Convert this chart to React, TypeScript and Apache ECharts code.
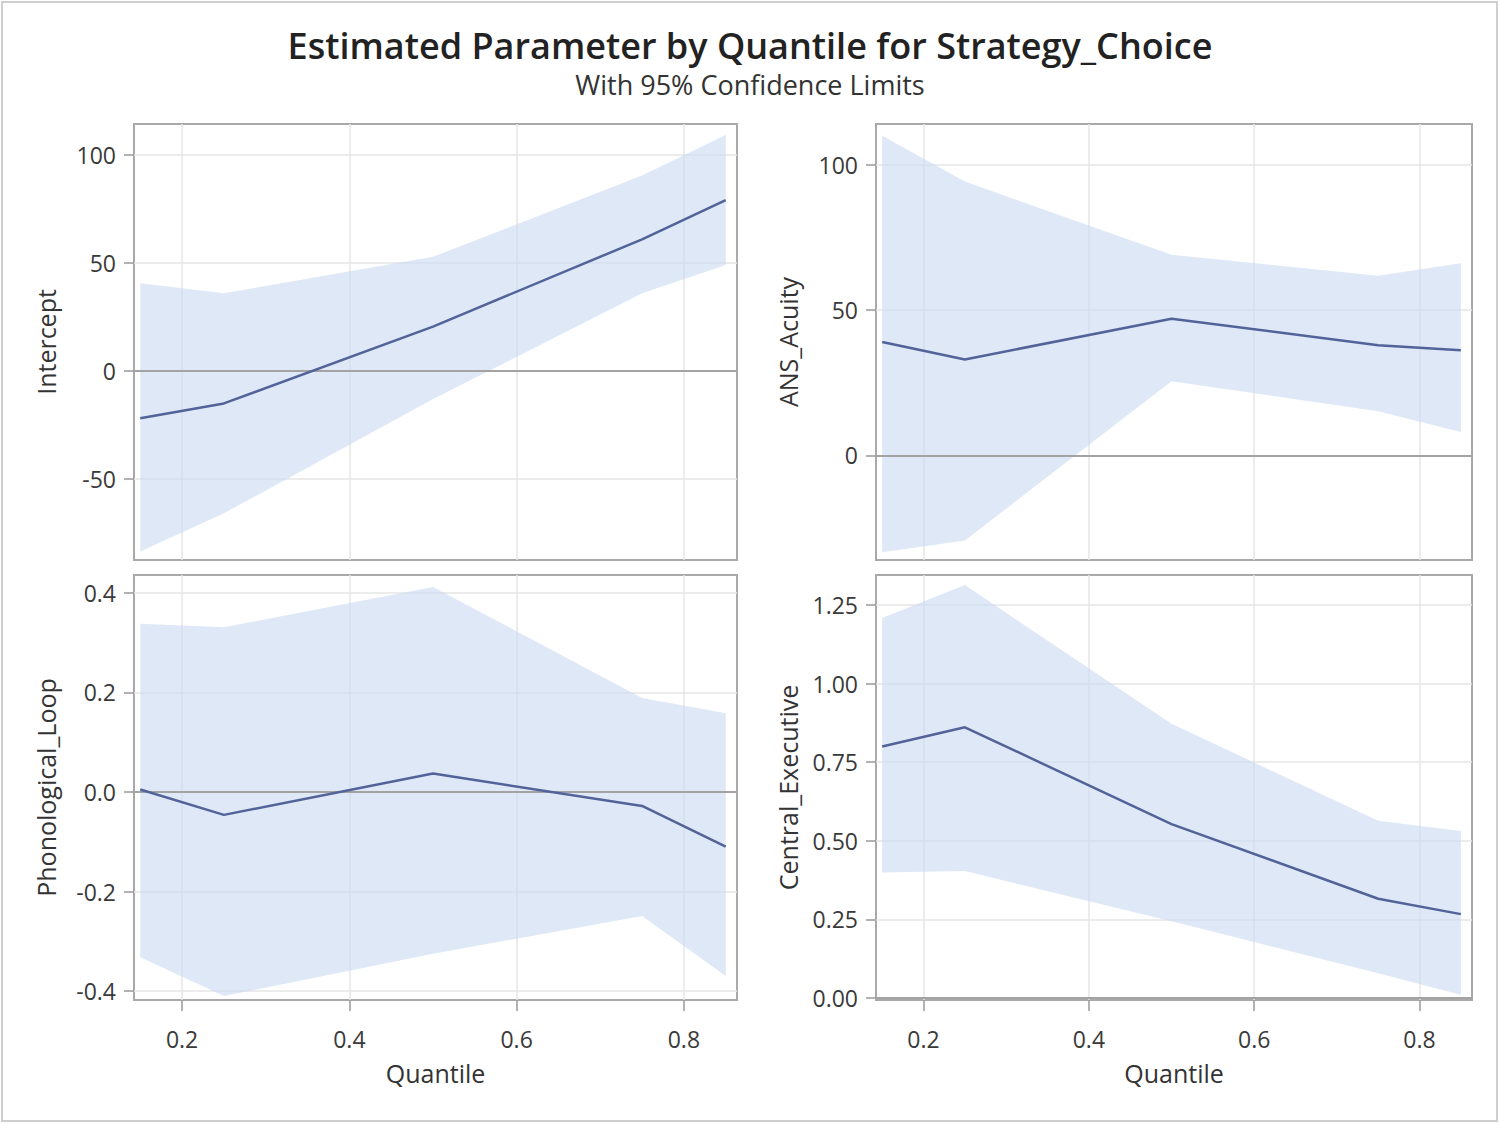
import React, { useEffect, useRef } from "react";
import * as echarts from "echarts";

const quantiles = [0.15, 0.25, 0.5, 0.75, 0.85];

const interceptEst = [-21.9, -15.0, 20.6, 61.0, 79.2];
const interceptLower = [-83.6, -65.9, -13.0, 36.0, 49.1];
const interceptUpper = [40.6, 36.0, 52.9, 90.5, 109.3];

const ansEst = [39.0, 33.0, 47.0, 37.9, 36.2];
const ansLower = [-33.3, -29.3, 25.5, 15.2, 8.0];
const ansUpper = [110.0, 94.2, 69.0, 61.8, 66.1];

const phonEst = [0.005, -0.046, 0.037, -0.028, -0.11];
const phonLower = [-0.332, -0.41, -0.325, -0.249, -0.37];
const phonUpper = [0.338, 0.331, 0.412, 0.189, 0.158];

const ceEst = [0.8, 0.861, 0.553, 0.316, 0.267];
const ceLower = [0.399, 0.404, 0.244, 0.079, 0.011];
const ceUpper = [1.208, 1.313, 0.872, 0.564, 0.531];

const xTicks = [0.2, 0.4, 0.6, 0.8];
const interceptTicks = [-50, 0, 50, 100];
const ansTicks = [0, 50, 100];
const phonTicks = [-0.4, -0.2, 0, 0.2, 0.4];
const ceTicks = [0, 0.25, 0.5, 0.75, 1, 1.25];

const titleText = "Estimated Parameter by Quantile for Strategy_Choice";
const subtitleText = "With 95% Confidence Limits";
const xName = "Quantile";

const FONT = "'Open Sans', 'Noto Sans', sans-serif";
const LINE_COLOR = "#52639a";
const BAND_COLOR = "rgba(201,218,240,0.62)";

const panels = [
  {
    name: "Intercept",
    est: interceptEst, lower: interceptLower, upper: interceptUpper,
    ticks: interceptTicks, min: -87.5, max: 114.4, digits: 0,
    grid: { left: 134, top: 124, width: 603, height: 436 }, bottom: false,
  },
  {
    name: "ANS_Acuity",
    est: ansEst, lower: ansLower, upper: ansUpper,
    ticks: ansTicks, min: -36, max: 114, digits: 0,
    grid: { left: 876, top: 124, width: 596, height: 436 }, bottom: false,
  },
  {
    name: "Phonological_Loop",
    est: phonEst, lower: phonLower, upper: phonUpper,
    ticks: phonTicks, min: -0.418, max: 0.436, digits: 1,
    grid: { left: 134, top: 575, width: 603, height: 425 }, bottom: true,
  },
  {
    name: "Central_Executive",
    est: ceEst, lower: ceLower, upper: ceUpper,
    ticks: ceTicks, min: -0.006, max: 1.345, digits: 2,
    grid: { left: 876, top: 575, width: 596, height: 425 }, bottom: true,
  },
];

export default function App() {
  const ref = useRef<HTMLDivElement>(null);

  useEffect(() => {
    document.body.style.margin = "0";
    if (!ref.current) return;
    const chart = echarts.init(ref.current, undefined, { renderer: "svg" });

    const grids: any[] = [];
    const xAxes: any[] = [];
    const yAxes: any[] = [];
    const series: any[] = [];

    panels.forEach((p, i) => {
      grids.push({
        ...p.grid,
        show: true,
        borderColor: "#a9a9a9",
        borderWidth: 2,
        backgroundColor: "transparent",
        containLabel: false,
      });
      xAxes.push({
        type: "value",
        gridIndex: i,
        min: 0.1425,
        max: 0.8635,
        name: p.bottom ? xName : "",
        nameLocation: "middle",
        nameGap: 60,
        nameTextStyle: { fontFamily: FONT, fontSize: 25, color: "#333" },
        axisLine: { show: false, onZero: false },
        axisTick: {
          show: p.bottom,
          length: 11,
          lineStyle: { color: "#999", width: 1.5 },
          customValues: xTicks,
        },
        axisLabel: {
          show: p.bottom,
          customValues: xTicks,
          margin: 27,
          fontFamily: FONT,
          fontSize: 23,
          color: "#3a3a3a",
          formatter: (v: number) => v.toFixed(1),
        },
        splitLine: { show: true, lineStyle: { color: "#e6e6e6", width: 1.5 } },
      });
      yAxes.push({
        type: "value",
        gridIndex: i,
        min: p.min,
        max: p.max,
        name: p.name,
        nameLocation: "middle",
        nameRotate: 90,
        nameGap: 76,
        nameTextStyle: { fontFamily: FONT, fontSize: 25, color: "#333" },
        axisLine: { show: false, onZero: false },
        axisTick: {
          show: true,
          length: 10,
          lineStyle: { color: "#999", width: 1.5 },
          customValues: p.ticks,
        },
        axisLabel: {
          customValues: p.ticks,
          margin: 18,
          fontFamily: FONT,
          fontSize: 23,
          color: "#3a3a3a",
          formatter: (v: number) => v.toFixed(p.digits),
        },
        splitLine: { show: true, lineStyle: { color: "#e6e6e6", width: 1.5 } },
      });
      const bandData = quantiles.map((q, k) => [q, p.lower[k], p.upper[k]]);
      series.push({
        type: "custom",
        xAxisIndex: i,
        yAxisIndex: i,
        silent: true,
        z: 1,
        data: bandData,
        encode: { x: 0, y: [1, 2] },
        renderItem: (params: any, api: any) => {
          if (params.dataIndex !== 0) return null;
          const upperPts = bandData.map((d) => api.coord([d[0], d[2]]));
          const lowerPts = bandData
            .slice()
            .reverse()
            .map((d) => api.coord([d[0], d[1]]));
          return {
            type: "polygon",
            shape: { points: upperPts.concat(lowerPts) },
            style: { fill: BAND_COLOR, stroke: "none" },
          };
        },
      });
      series.push({
        type: "line",
        xAxisIndex: i,
        yAxisIndex: i,
        symbol: "none",
        silent: true,
        lineStyle: { color: LINE_COLOR, width: 2.5 },
        data: quantiles.map((q, k) => [q, p.est[k]]),
        z: 3,
        markLine: {
          silent: true,
          symbol: ["none", "none"],
          label: { show: false },
          lineStyle: { color: "#a3a3a3", width: 2, type: "solid" },
          data: [{ yAxis: 0 }],
          z: 2,
        },
      });
    });

    chart.setOption({
      animation: false,
      backgroundColor: "#ffffff",
      title: [
        {
          text: titleText,
          left: "center",
          top: 22,
          textStyle: { fontFamily: FONT, fontSize: 36, fontWeight: 600, color: "#222" },
        },
        {
          text: subtitleText,
          left: "center",
          top: 66,
          textStyle: { fontFamily: FONT, fontSize: 27, fontWeight: "normal", color: "#333" },
        },
      ],
      graphic: [
        {
          type: "rect",
          shape: { x: 2, y: 2, width: 1495, height: 1119 },
          style: { fill: "none", stroke: "#cfcfcf", lineWidth: 2 },
          silent: true,
        },
      ],
      grid: grids,
      xAxis: xAxes,
      yAxis: yAxes,
      series,
    });

    return () => chart.dispose();
  }, []);

  return <div ref={ref} style={{ width: 1500, height: 1124 }} />;
}
